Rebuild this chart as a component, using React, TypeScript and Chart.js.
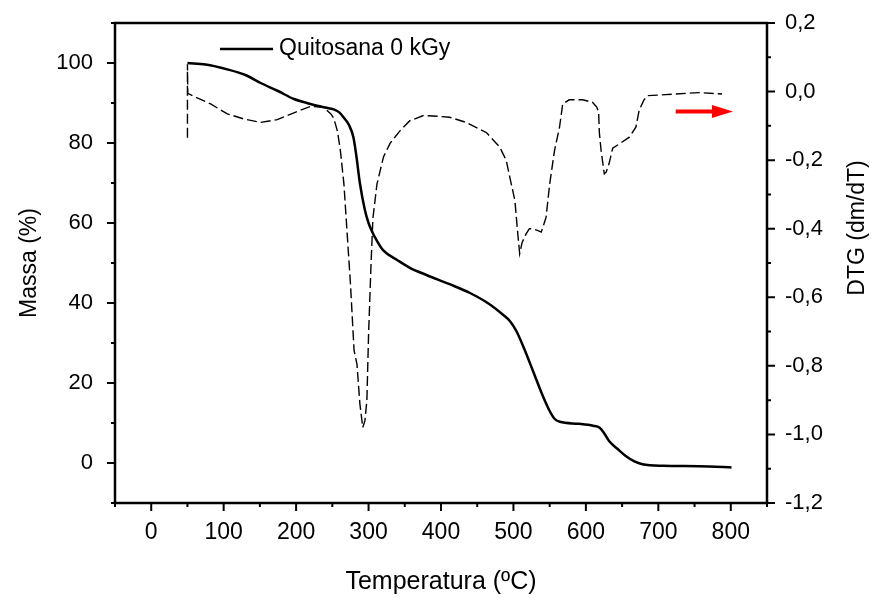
import React, { useEffect, useRef } from 'react';
import { Chart, registerables } from 'chart.js';

Chart.register(...registerables);

// ---------- data ----------
const TG_TEMP = [50, 75, 105, 130, 151, 175, 197, 215, 229, 245, 252, 260, 266, 273, 279, 283, 288, 295, 300, 304, 311, 320, 340, 357, 380, 412, 440, 467, 486, 495, 504, 515, 527, 540, 550, 557, 564, 590, 610, 619, 625, 632, 645, 655, 667, 678, 706, 756, 790, 801];
const TG_MASS = [100.0, 99.6, 98.4, 97.0, 95.0, 93.0, 91.0, 90.0, 89.3, 88.7, 88.4, 87.6, 86.3, 84.5, 81.5, 77.0, 70.0, 63.2, 60.0, 58.2, 55.7, 53.2, 50.7, 48.8, 47.0, 44.7, 42.5, 39.7, 37.0, 35.5, 33.0, 28.5, 23.0, 17.0, 13.0, 11.0, 10.3, 9.8, 9.3, 8.8, 7.5, 5.5, 3.3, 1.75, 0.4, -0.3, -0.7, -0.8, -1.0, -1.1];

const DTG_TEMP = [50, 50, 50.5, 60, 82, 105, 128, 151, 174, 197, 220, 238, 248, 252, 257, 261, 266, 270.5, 275, 280, 284, 288, 292, 295, 297.7, 300, 303.3, 306, 311.6, 320.7, 330, 343.6, 357, 375.7, 395, 412, 435, 463, 481, 490, 495, 502, 506, 508.6, 512, 517.5, 522, 527, 533, 538.4, 545, 550, 556.7, 563.6, 568, 577, 595.6, 609, 615, 617.6, 618.6, 621, 625.4, 628, 632, 637, 646, 660, 669, 673.5, 680, 685, 710, 756, 788];
const DTG_VALUE = [-0.135, 0.08, -0.005, -0.015, -0.036, -0.065, -0.08, -0.09, -0.082, -0.062, -0.043, -0.046, -0.065, -0.078, -0.115, -0.17, -0.27, -0.415, -0.56, -0.755, -0.795, -0.91, -0.98, -0.96, -0.9, -0.71, -0.51, -0.37, -0.27, -0.19, -0.15, -0.114, -0.085, -0.07, -0.072, -0.075, -0.09, -0.12, -0.162, -0.2, -0.25, -0.318, -0.415, -0.473, -0.44, -0.415, -0.4, -0.4, -0.405, -0.41, -0.367, -0.27, -0.172, -0.104, -0.036, -0.024, -0.024, -0.031, -0.045, -0.06, -0.12, -0.172, -0.24, -0.235, -0.21, -0.165, -0.153, -0.133, -0.104, -0.055, -0.025, -0.012, -0.009, -0.003, -0.007];

const ARROW_X = [724, 803];
const ARROW_Y = -0.058;

const X_MIN = -50, X_MAX = 850, X_STEP = 50, X_MAJOR = 100;
const Y_MIN = -10, Y_MAX = 110, Y_STEP = 10, Y_MAJOR = 20;
const R_MIN = -1.2, R_MAX = 0.2, R_STEP = 0.1;

const LEGEND_LABEL = 'Quitosana 0 kGy';
const X_TITLE = 'Temperatura (ºC)';
const Y_TITLE = 'Massa (%)';
const R_TITLE = 'DTG (dm/dT)';

const FONT = '"Liberation Sans", Arial, sans-serif';

const fmtR = (v: number) => {
  if (Math.abs(v) < 1e-9) return '0,0';
  return v.toFixed(1).replace('.', ',');
};

const decorPlugin = {
  id: 'decor',
  afterDraw(chart: any) {
    const ctx = chart.ctx;
    const { left, right, top, bottom } = chart.chartArea;
    const sx = chart.scales.x, sy = chart.scales.y, sr = chart.scales.y1;
    ctx.save();
    ctx.strokeStyle = '#000';
    ctx.lineWidth = 2.5;
    ctx.lineCap = 'butt';
    ctx.strokeRect(left, top, right - left, bottom - top);

    ctx.lineWidth = 2;
    ctx.beginPath();
    sx.ticks.forEach((t: any) => {
      const p = sx.getPixelForValue(t.value);
      const major = Math.round(t.value) % X_MAJOR === 0;
      const len = major ? 8 : 4;
      ctx.moveTo(p, bottom);
      ctx.lineTo(p, bottom + len);
    });
    sy.ticks.forEach((t: any) => {
      const p = sy.getPixelForValue(t.value);
      const major = Math.round(t.value) % Y_MAJOR === 0;
      const len = major ? 8 : 4;
      ctx.moveTo(left, p);
      ctx.lineTo(left - len, p);
    });
    sr.ticks.forEach((t: any) => {
      const p = sr.getPixelForValue(t.value);
      const major = Math.round(t.value * 10) % 2 === 0;
      const len = major ? 8 : 4;
      ctx.moveTo(right, p);
      ctx.lineTo(right + len, p);
    });
    ctx.stroke();

    // legend
    const ly = top + 26;
    ctx.lineWidth = 2.5;
    ctx.beginPath();
    ctx.moveTo(left + 105, ly);
    ctx.lineTo(left + 158, ly);
    ctx.stroke();
    ctx.fillStyle = '#000';
    ctx.font = `23px ${FONT}`;
    ctx.textAlign = 'left';
    ctx.textBaseline = 'middle';
    ctx.fillText(LEGEND_LABEL, left + 164, ly);

    // right title
    ctx.save();
    ctx.translate(858, 228);
    ctx.rotate(-Math.PI / 2);
    ctx.textAlign = 'center';
    ctx.textBaseline = 'middle';
    ctx.font = `23px ${FONT}`;
    ctx.fillText(R_TITLE, 0, 0);
    ctx.restore();

    // red arrow
    const ax0 = sx.getPixelForValue(ARROW_X[0]);
    const ax1 = sx.getPixelForValue(ARROW_X[1]);
    const ay = sr.getPixelForValue(ARROW_Y);
    const headLen = 21, headHalf = 6.5;
    ctx.strokeStyle = '#ff0000';
    ctx.fillStyle = '#ff0000';
    ctx.lineWidth = 4;
    ctx.beginPath();
    ctx.moveTo(ax0, ay);
    ctx.lineTo(ax1 - headLen + 2, ay);
    ctx.stroke();
    ctx.beginPath();
    ctx.moveTo(ax1, ay);
    ctx.lineTo(ax1 - headLen, ay - headHalf);
    ctx.lineTo(ax1 - headLen, ay + headHalf);
    ctx.closePath();
    ctx.fill();
    ctx.restore();
  },
};

export default function App() {
  const ref = useRef<HTMLCanvasElement | null>(null);
  useEffect(() => {
    if (!ref.current) return;
    const tickFont = { family: FONT, size: 23 };
    const chart = new Chart(ref.current, {
      type: 'line',
      data: {
        datasets: [
          {
            label: LEGEND_LABEL,
            data: TG_TEMP.map((x, i) => ({ x, y: TG_MASS[i] })),
            yAxisID: 'y',
            borderColor: '#000',
            borderWidth: 2.5,
            pointRadius: 0,
            cubicInterpolationMode: 'monotone',
            fill: false,
          },
          {
            label: 'DTG',
            data: DTG_TEMP.map((x, i) => ({ x, y: DTG_VALUE[i] })),
            yAxisID: 'y1',
            borderColor: '#000',
            borderWidth: 1.4,
            borderDash: [10, 4],
            pointRadius: 0,
            tension: 0,
            fill: false,
          },
        ],
      },
      options: {
        responsive: false,
        animation: false,
        layout: { padding: { top: 23, left: 0, right: 0, bottom: 0 } },
        plugins: { legend: { display: false }, tooltip: { enabled: false } },
        scales: {
          x: {
            type: 'linear',
            min: X_MIN,
            max: X_MAX,
            grid: { display: false },
            border: { display: false },
            ticks: {
              stepSize: X_STEP,
              autoSkip: false,
              maxRotation: 0,
              padding: 8,
              color: '#000',
              font: tickFont,
              callback: (v: any) => (Math.round(v) % X_MAJOR === 0 ? String(v) : ''),
            },
            title: {
              display: true,
              text: X_TITLE,
              color: '#000',
              font: { family: FONT, size: 25 },
              padding: { top: 0, bottom: 4 },
            },
            afterFit: (s: any) => { s.height = 98; s.paddingLeft = 0; s.paddingRight = 0; },
          },
          y: {
            type: 'linear',
            position: 'left',
            min: Y_MIN,
            max: Y_MAX,
            grid: { display: false },
            border: { display: false },
            ticks: {
              stepSize: Y_STEP,
              autoSkip: false,
              padding: 14,
              color: '#000',
              font: { family: FONT, size: 22 },
              callback: (v: any) => (Math.round(v) % Y_MAJOR === 0 && v >= 0 && v <= 100 ? String(v) : ''),
            },
            title: {
              display: true,
              text: Y_TITLE,
              color: '#000',
              font: { family: FONT, size: 23 },
              padding: { top: 16, bottom: 0 },
            },
            afterFit: (s: any) => { s.width = 115; s.paddingTop = 0; s.paddingBottom = 0; },
          },
          y1: {
            type: 'linear',
            position: 'right',
            min: R_MIN,
            max: R_MAX,
            grid: { display: false },
            border: { display: false },
            ticks: {
              stepSize: R_STEP,
              autoSkip: false,
              padding: 10,
              color: '#000',
              font: { family: FONT, size: 22 },
              callback: (v: any) => (Math.round(v * 10) % 2 === 0 ? fmtR(v) : ''),
            },
            afterFit: (s: any) => { s.width = 109; s.paddingTop = 0; s.paddingBottom = 0; },
          },
        },
      },
      plugins: [decorPlugin],
    } as any);
    return () => chart.destroy();
  }, []);
  return (
    <div style={{ position: 'fixed', left: 0, top: 0, width: 876, height: 601, background: '#fff' }}>
      <canvas ref={ref} width={876} height={601} style={{ display: 'block' }} />
    </div>
  );
}
